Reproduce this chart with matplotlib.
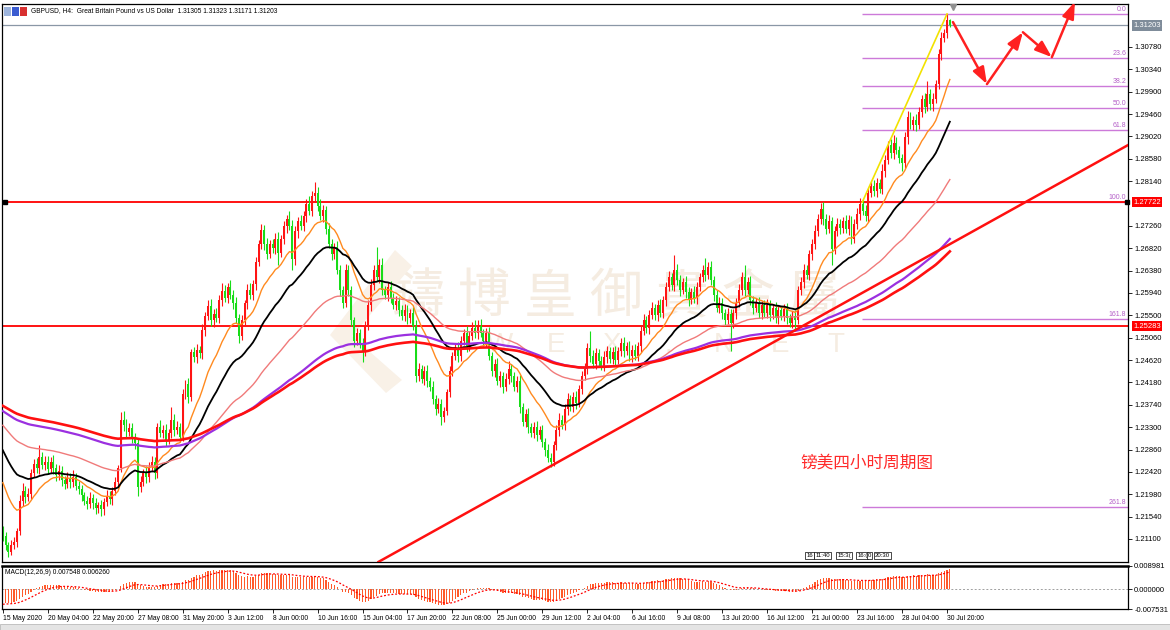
import numpy as np
import pandas as pd
import matplotlib
matplotlib.use('Agg')
import matplotlib.pyplot as plt
import matplotlib.transforms as mtransforms
from matplotlib.patches import Rectangle, Polygon

plt.rcParams['font.family'] = ['Liberation Sans', 'DejaVu Sans']

W, H = 1170, 630

# ---- data: GBPUSD H4 closes (in 1e-4 units), first open, wick sizes in pips ----
first_open = 12130
closes = [
    12115, 12098, 12085, 12098, 12105, 12125, 12185, 12205, 12192, 12198, 12240, 12258, 12250, 12272, 12255, 12262,
    12248, 12262, 12250, 12235, 12243, 12226, 12218, 12230, 12222, 12232, 12215, 12208, 12196, 12185, 12178, 12190,
    12180, 12170, 12176, 12168, 12182, 12195, 12188, 12205, 12222, 12250, 12345, 12335, 12320, 12328, 12310, 12298,
    12212, 12222, 12240, 12232, 12252, 12262, 12240, 12330, 12318, 12325, 12305, 12318, 12345, 12325, 12330, 12310,
    12395, 12415, 12390, 12478, 12468, 12482, 12475, 12522, 12548, 12568, 12540, 12552, 12545, 12580, 12598, 12585,
    12605, 12590, 12575, 12545, 12510, 12540, 12575, 12600, 12590, 12612, 12655, 12690, 12718, 12690, 12670, 12690,
    12682, 12700, 12672, 12700, 12725, 12740, 12725, 12660, 12715, 12735, 12725, 12745, 12770, 12755, 12785, 12790,
    12765, 12745, 12758, 12720, 12690, 12670, 12685, 12640, 12600, 12575, 12640, 12600, 12540, 12500, 12515, 12495,
    12480, 12530, 12570, 12610, 12640, 12625, 12650, 12600, 12590, 12605, 12585, 12570, 12578, 12560, 12548, 12560,
    12545, 12555, 12530, 12430, 12445, 12425, 12440, 12420, 12410, 12385, 12365, 12375, 12350, 12362, 12400, 12440,
    12470, 12485, 12470, 12500, 12515, 12490, 12510, 12525, 12515, 12530, 12515, 12500, 12515, 12470, 12440, 12455,
    12420, 12430, 12410, 12425, 12445, 12430, 12410, 12420, 12370, 12340, 12355, 12330, 12318, 12330, 12315, 12325,
    12300, 12285, 12270, 12262, 12295, 12325, 12345, 12335, 12365, 12385, 12370, 12390, 12378, 12405, 12430, 12445,
    12485, 12470, 12455, 12475, 12460, 12450, 12468, 12480, 12465, 12478, 12462, 12480, 12495, 12480, 12490, 12470,
    12482, 12470, 12490, 12520, 12540, 12525, 12550, 12565, 12550, 12570, 12555, 12580, 12605, 12625, 12610, 12640,
    12620, 12600, 12615, 12595, 12580, 12595, 12585, 12605, 12625, 12640, 12630, 12645, 12620, 12590, 12565, 12575,
    12555, 12540, 12552, 12535, 12555, 12575, 12600, 12625, 12600, 12615, 12580, 12565, 12575, 12555, 12570, 12555,
    12570, 12550, 12565, 12545, 12560, 12548, 12562, 12545, 12535, 12548, 12540, 12600, 12615, 12640, 12630, 12670,
    12690, 12715, 12740, 12760, 12740, 12720, 12735, 12680, 12715, 12730, 12722, 12735, 12720, 12738, 12700, 12730,
    12750, 12770, 12755, 12745, 12790, 12805, 12795, 12810, 12798, 12835, 12855, 12885, 12870, 12890, 12875, 12860,
    12850, 12900, 12940, 12925, 12935, 12925, 12950, 12975, 12960, 12985, 12965, 12975, 13005, 13065, 13095, 13105,
    13130.5, 13120.3,
]
wick_up = [
    5, 8, 6, 10, 8, 6, 12, 15, 10, 12, 8, 10, 12, 23, 10, 12,
    12, 10, 14, 8, 12, 10, 8, 12, 10, 14, 8, 10, 8, 6, 10, 12,
    8, 10, 6, 10, 8, 12, 10, 8, 10, 6, 15, 17, 12, 10, 10, 8,
    10, 12, 8, 14, 10, 12, 10, 8, 15, 10, 12, 8, 24, 10, 12, 8,
    10, 8, 12, 6, 10, 12, 8, 10, 8, 12, 14, 10, 12, 10, 15, 12,
    8, 14, 10, 12, 8, 10, 6, 12, 14, 8, 10, 8, 12, 10, 12, 8,
    10, 12, 14, 8, 10, 8, 16, 12, 10, 8, 12, 10, 8, 14, 10, 22,
    12, 14, 10, 8, 12, 10, 8, 12, 10, 8, 12, 10, 8, 6, 10, 8,
    10, 8, 10, 12, 10, 45, 10, 12, 8, 10, 12, 8, 10, 8, 10, 12,
    10, 8, 12, 10, 12, 8, 10, 12, 8, 10, 8, 12, 10, 8, 6, 10,
    8, 10, 12, 10, 8, 14, 10, 12, 15, 10, 12, 8, 10, 12, 8, 10,
    12, 10, 8, 12, 15, 10, 8, 10, 12, 8, 10, 12, 8, 10, 12, 8,
    10, 8, 12, 10, 8, 10, 12, 8, 10, 12, 8, 10, 12, 8, 10, 12,
    10, 35, 12, 10, 8, 10, 12, 10, 8, 10, 12, 8, 10, 12, 8, 10,
    10, 12, 8, 10, 12, 8, 10, 12, 8, 10, 12, 8, 10, 12, 8, 28,
    12, 10, 8, 12, 10, 8, 12, 10, 8, 10, 22, 10, 12, 8, 10, 12,
    10, 8, 12, 10, 8, 10, 12, 10, 25, 10, 12, 8, 10, 12, 8, 10,
    12, 10, 8, 12, 10, 8, 10, 12, 8, 10, 12, 8, 10, 12, 10, 8,
    10, 12, 10, 12, 14, 10, 12, 8, 10, 12, 10, 8, 12, 10, 8, 10,
    12, 10, 8, 12, 10, 8, 12, 10, 8, 12, 10, 8, 12, 15, 10, 8,
    8, 10, 12, 10, 8, 12, 10, 8, 12, 27, 10, 12, 8, 10, 12, 8,
    12.5, 1.8,
]
wick_dn = [
    8, 10, 10, 6, 8, 10, 8, 10, 12, 8, 10, 8, 10, 12, 8, 10,
    10, 8, 12, 10, 8, 12, 10, 8, 12, 10, 8, 10, 12, 8, 10, 8,
    12, 10, 8, 12, 10, 8, 10, 12, 8, 10, 8, 12, 10, 8, 12, 10,
    17, 10, 8, 12, 10, 8, 12, 10, 8, 10, 12, 8, 10, 12, 8, 10,
    8, 10, 12, 8, 10, 12, 8, 10, 12, 8, 10, 12, 8, 10, 12, 8,
    10, 8, 12, 10, 14, 8, 10, 12, 8, 10, 12, 8, 10, 12, 10, 8,
    10, 12, 22, 8, 10, 12, 8, 20, 10, 12, 8, 10, 12, 8, 10, 12,
    10, 8, 12, 10, 8, 12, 10, 8, 12, 10, 8, 12, 10, 12, 8, 10,
    22, 10, 8, 12, 10, 8, 12, 10, 8, 12, 10, 8, 10, 12, 8, 10,
    12, 10, 8, 12, 10, 8, 12, 10, 8, 10, 12, 8, 15, 10, 8, 10,
    10, 8, 12, 10, 8, 12, 10, 8, 10, 12, 8, 10, 12, 8, 10, 12,
    8, 10, 12, 8, 10, 12, 8, 10, 12, 8, 10, 12, 8, 10, 12, 8,
    10, 12, 8, 10, 8, 10, 12, 8, 10, 12, 8, 10, 12, 8, 10, 8,
    10, 12, 8, 10, 12, 8, 10, 12, 8, 10, 12, 8, 10, 12, 8, 10,
    12, 8, 10, 12, 8, 10, 12, 8, 10, 12, 8, 10, 12, 8, 10, 12,
    10, 12, 8, 10, 12, 8, 10, 12, 8, 10, 12, 8, 10, 12, 8, 10,
    12, 10, 8, 55, 10, 12, 8, 10, 12, 8, 10, 12, 8, 10, 12, 8,
    10, 12, 8, 10, 12, 8, 10, 12, 8, 10, 20, 8, 10, 12, 8, 10,
    12, 10, 8, 10, 12, 10, 8, 30, 10, 8, 12, 10, 8, 12, 10, 8,
    10, 12, 8, 10, 12, 8, 10, 12, 8, 10, 12, 8, 10, 12, 8, 10,
    15, 10, 12, 8, 10, 12, 8, 10, 12, 8, 10, 12, 8, 10, 12, 8,
    10, 3.2,
]

date_labels = ['15 May 2020', '20 May 04:00', '22 May 20:00', '27 May 08:00', '31 May 20:00',
               '3 Jun 12:00', '8 Jun 00:00', '10 Jun 16:00', '15 Jun 04:00', '17 Jun 20:00',
               '22 Jun 08:00', '25 Jun 00:00', '29 Jun 12:00', '2 Jul 04:00', '6 Jul 16:00',
               '9 Jul 08:00', '13 Jul 20:00', '16 Jul 12:00', '21 Jul 00:00', '23 Jul 16:00',
               '28 Jul 04:00', '30 Jul 20:00']
price_ticks = [1.21100, 1.21540, 1.21980, 1.22420, 1.22860, 1.23300, 1.23740, 1.24180, 1.24620,
               1.25060, 1.25500, 1.25940, 1.26380, 1.26820, 1.27260, 1.28140, 1.28580, 1.29020,
               1.29460, 1.29900, 1.30340, 1.30780]

# moving averages (EMA), seeded with their level at the left edge of the chart
ma_spans = [16, 33, 70, 144, 169]
ma_seeds = [1.2235, 1.2295, 1.2340, 1.2365, 1.2375]
# MACD(12,26,9) seeds at left edge
macd_seeds = [1.2150, 1.2205, -0.0058]

support_lines = [1.27722, 1.25283]
last_price = 1.31203
fib_low, fib_high = 1.27722, 1.3143
fib_levels = [0.0, 23.6, 38.2, 50.0, 61.8, 100.0, 161.8, 261.8]
fib_start = 305.8
trend_pts = [(133.7, 1.2065), (400.4, 1.2885)]
forecast = [(338.1, 1.3127), (350.2, 1.3005), (363.0, 1.3107), (373.3, 1.3058), (381.5, 1.3167)]

# ---- derived ----
c = np.array(closes) / 1e4
o = np.r_[first_open / 1e4, c[:-1]]
hi = np.maximum(o, c) + np.array(wick_up) / 1e4
lo = np.minimum(o, c) - np.array(wick_dn) / 1e4
idx = np.arange(len(c))
bull = c >= o

def ema(x, span, seed):
    s = pd.Series(np.r_[seed, x])
    return s.ewm(span=span, adjust=False).mean().to_numpy()[1:]

xmin, xmax = -0.3, 400.4
ymin, ymax = 1.20647, 1.31626

fig = plt.figure(figsize=(W / 100, H / 100), dpi=100)
ax = fig.add_axes([2 / W, 1 - 562 / H, 1126 / W, 558 / H])
ax2 = fig.add_axes([2 / W, 1 - 609 / H, 1126 / W, 43 / H])

# watermark
wm_col = '#f5ece1'
for k, ch in enumerate('鑄博皇御貴金屬'):
    ax.text((418 + k * 66) / W, 1 - 297 / H, ch, transform=fig.transFigure, fontsize=38,
            color=wm_col, ha='center', va='center', family=['Noto Sans CJK TC'], zorder=0)
for k, ch in enumerate('W E X . N E T'.split(' ')):
    ax.text((500 + k * 56) / W, 1 - 345 / H, ch, transform=fig.transFigure, fontsize=20,
            color=wm_col, ha='center', va='center', zorder=0)
logo = Polygon([(395 / W, 1 - 250 / H), (412 / W, 1 - 266 / H), (352 / W, 1 - 336 / H),
                (402 / W, 1 - 380 / H), (386 / W, 1 - 393 / H), (330 / W, 1 - 335 / H)],
               closed=True, transform=fig.transFigure, fc='#f9f1e7', ec='none', zorder=0)
ax.add_patch(logo)

# fibonacci
rng = fib_high - fib_low
for lv in fib_levels:
    y = fib_high - rng * lv / 100
    ax.hlines(y, fib_start, xmax, color='#cc7ad9', lw=1.0, zorder=0.8)
    ax.text(xmax - 0.6, y + 0.0002, f'{lv:.1f}', color='#b560c8', fontsize=5.0,
            ha='right', va='bottom', zorder=6)
ax.plot([fib_start, 336], [fib_low, fib_high], color='#f2e200', lw=1.2, zorder=4)

# horizontal lines
ax.axhline(last_price, color='#8a97a6', lw=0.9, zorder=1)
for p in support_lines:
    ax.axhline(p, color='#ff0000', lw=1.3, zorder=1)
ax.plot([xmin + 0.9, xmax - 0.3], [support_lines[0]] * 2, ls='none', marker='s', ms=3.2,
        color='black', zorder=6, clip_on=False)

# moving averages
ma_colors = ['#ff8a1f', '#000000', '#f07a7a', '#9b30e0', '#ff1010']
ma_widths = [1.0, 1.3, 1.0, 1.6, 1.9]
for span, seed, col, lw in zip(ma_spans, ma_seeds, ma_colors, ma_widths):
    ax.plot(idx, ema(c, span, seed), color=col, lw=lw, zorder=3)

# candles
bull_col, bear_col = '#ff1414', '#18dc18'
cols = np.where(bull, bull_col, bear_col)
ax.vlines(idx, lo, hi, colors=cols, lw=0.8, zorder=2)
body = np.maximum(np.abs(c - o), 0.00006)
ax.bar(idx, body, bottom=np.minimum(o, c), width=0.7, color=cols, lw=0, zorder=2)

# trend line
tx, ty = zip(*trend_pts)
ax.plot(tx, ty, color='#ff1010', lw=1.8, zorder=4)

# forecast arrows
for (x0, y0), (x1, y1) in zip(forecast[:-1], forecast[1:]):
    ax.annotate('', xy=(x1, y1), xytext=(x0, y0), annotation_clip=False,
                arrowprops=dict(arrowstyle='-|>,head_length=1.0,head_width=0.36',
                                color='#ff2020', lw=1.8, shrinkA=0, shrinkB=0), zorder=5)

ax.text(283.7, 1.2260, '镑美四小时周期图', fontsize=12, color='#ff2a2a',
        family=['Noto Sans CJK SC'], ha='left', va='center', zorder=6)

# small boxed labels near bottom
for x, s in [(806, '16'), (815, '11:40'), (837, '15:3('), (857, '16:('), (868, '0'), (875, '20:30')]:
    ax.text((x - 2) / 2.8125, 1.2077, s, fontsize=4.3, ha='left', va='center', zorder=6,
            bbox=dict(boxstyle='square,pad=0.15', fc='white', ec='black', lw=0.5))

# shift marker
ax.plot([338], [ymax - 0.0006], marker='v', ms=4, color='#909090', zorder=6, clip_on=False)

ax.set_xlim(xmin, xmax)
ax.set_ylim(ymin, ymax)
ax.set_xticks([])
ax.yaxis.tick_right()
ax.set_yticks(price_ticks)
ax.set_yticklabels([f'{p:.5f}' for p in price_ticks])
ax.tick_params(axis='y', length=3, width=0.6, pad=1.5, labelsize=5.5, direction='out')
for s in ax.spines.values():
    s.set_color('black')
    s.set_linewidth(0.9)

tr = mtransforms.blended_transform_factory(ax.transAxes, ax.transData)
for p, fc, tc in [(last_price, '#7f8c9a', 'white'), (support_lines[0], '#ff0000', 'white'),
                  (support_lines[1], '#ff0000', 'white')]:
    ax.text(1.0045, p, f'{p:.5f}', transform=tr, fontsize=5.5, color=tc, ha='left', va='center',
            zorder=7, clip_on=False, bbox=dict(boxstyle='square,pad=0.2', fc=fc, ec='none'))

# MACD
e12 = ema(c, 12, macd_seeds[0])
e26 = ema(c, 26, macd_seeds[1])
macd = e12 - e26
signal = ema(macd, 9, macd_seeds[2])
ax2.axhline(0, color='#a0a0a0', lw=0.7, ls=(0, (2, 2)), zorder=1)
ax2.bar(idx, macd, width=0.42, color='#ff5a2a', lw=0, zorder=2)
ax2.plot(idx, signal, color='#ff0000', lw=0.9, ls=(0, (1.5, 1.5)), zorder=3)
ax2.set_xlim(xmin, xmax)
ax2.set_ylim(-0.007531, 0.008981)
ax2.yaxis.tick_right()
ax2.set_yticks([0.008981, 0.0, -0.007531])
ax2.set_yticklabels(['0.008981', '0.000000', '-0.007531'])
ax2.tick_params(axis='y', length=3, width=0.6, pad=1.5, labelsize=5.5)
label_bars = list(range(0, 337, 16))
ax2.set_xticks(label_bars)
ax2.set_xticklabels(date_labels)
ax2.tick_params(axis='x', length=3, width=0.6, pad=1.5, labelsize=4.9)
for lbl in ax2.get_xticklabels():
    lbl.set_ha('left')
for s in ax2.spines.values():
    s.set_color('black')
    s.set_linewidth(0.9)
ax2.spines['top'].set_linewidth(1.8)
ax2.text(0.003, 0.92, 'MACD(12,26,9) 0.007548 0.006260', transform=ax2.transAxes,
         fontsize=4.8, ha='left', va='top')

# header
fig.text(31 / W, 1 - 11 / H, 'GBPUSD, H4:  Great Britain Pound vs US Dollar  1.31305 1.31323 1.31171 1.31203',
         fontsize=4.8, ha='left', va='center')
for x, col in [(4, '#9db4dc'), (12, '#3a5bd0'), (20, '#d83030')]:
    fig.patches.append(Rectangle((x / W, 1 - 16 / H), 7 / W, 9 / H, transform=fig.transFigure,
                                 fc=col, ec='none'))
fig.patches.append(Rectangle((0, 0), 1, 6 / H, transform=fig.transFigure, fc='#e4e4e4', ec='#b0b0b0', lw=0.5))

fig.savefig('out.png', dpi=100)
